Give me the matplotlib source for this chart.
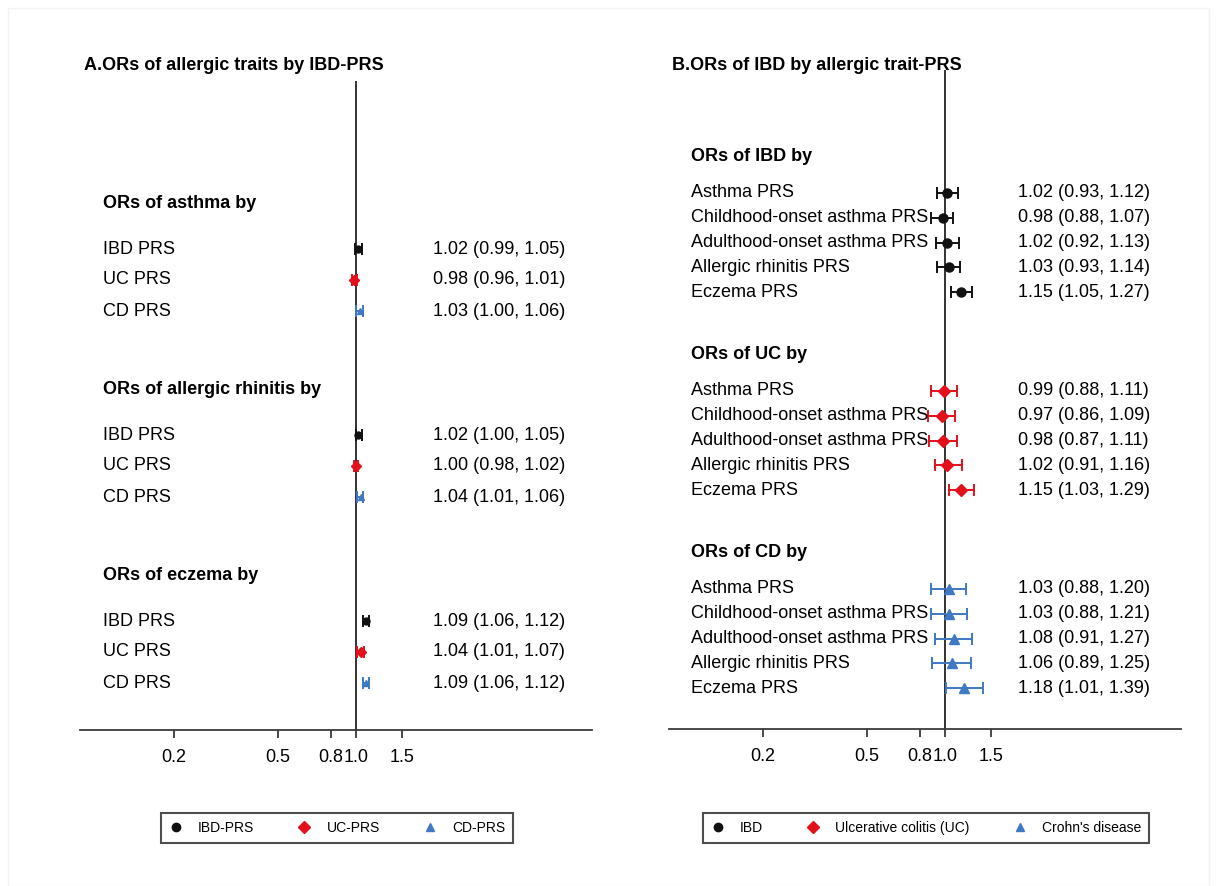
import numpy as np
import matplotlib.pyplot as plt
from matplotlib import transforms
from matplotlib.lines import Line2D
from matplotlib.patches import Rectangle

plt.rcParams['font.family'] = ['Liberation Sans', 'DejaVu Sans']

# ---- panel A data: ORs of allergic traits by IBD-PRS
groups_a = ["ORs of asthma by", "ORs of allergic rhinitis by", "ORs of eczema by"]
rows_a = ["IBD PRS", "UC PRS", "CD PRS"]
or_a = [[1.02, 0.98, 1.03], [1.02, 1.00, 1.04], [1.09, 1.04, 1.09]]
lo_a = [[0.99, 0.96, 1.00], [1.00, 0.98, 1.01], [1.06, 1.01, 1.06]]
hi_a = [[1.05, 1.01, 1.06], [1.05, 1.02, 1.06], [1.12, 1.07, 1.12]]
legend_a = ["IBD-PRS", "UC-PRS", "CD-PRS"]

# ---- panel B data: ORs of IBD by allergic trait-PRS
groups_b = ["ORs of IBD by", "ORs of UC by", "ORs of CD by"]
rows_b = ["Asthma PRS", "Childhood-onset asthma PRS", "Adulthood-onset asthma PRS",
          "Allergic rhinitis PRS", "Eczema PRS"]
or_b = [[1.02, 0.98, 1.02, 1.03, 1.15],
        [0.99, 0.97, 0.98, 1.02, 1.15],
        [1.03, 1.03, 1.08, 1.06, 1.18]]
lo_b = [[0.93, 0.88, 0.92, 0.93, 1.05],
        [0.88, 0.86, 0.87, 0.91, 1.03],
        [0.88, 0.88, 0.91, 0.89, 1.01]]
hi_b = [[1.12, 1.07, 1.13, 1.14, 1.27],
        [1.11, 1.09, 1.11, 1.16, 1.29],
        [1.20, 1.21, 1.27, 1.25, 1.39]]
legend_b = ["IBD", "Ulcerative colitis (UC)", "Crohn's disease"]

xticks = [0.2, 0.5, 0.8, 1.0, 1.5]
xticklabels = ["0.2", "0.5", "0.8", "1.0", "1.5"]

colors = ["#111111", "#e3101b", "#3f78c3"]
markers = ["o", "D", "^"]

W, H = 1217, 886
fig = plt.figure(figsize=(W / 100, H / 100), dpi=100)
fig.patches.append(Rectangle((8 / W, 0), 1201 / W, 1 - 8 / H, transform=fig.transFigure,
                             fill=False, edgecolor="#f0f4f4", lw=1.0))


def fx(px):
    return px / W


def fy(py):
    return 1 - py / H


def panel(x0, x1, ytop, ybot, title, title_x, lab_x, val_x, groups, rows, ors, los, his,
          head0, head_step, row_off, row_step, per_group_color, msize, leg_labels, leg_cx):
    ax = fig.add_axes([fx(x0), fy(ybot), (x1 - x0) / W, (ybot - ytop) / H])
    ax.set_xscale("log")
    ax.set_xlim(0.0875, 8.0)
    ax.set_ylim(ybot, ytop)
    for s in ["left", "right", "top"]:
        ax.spines[s].set_visible(False)
    ax.spines["bottom"].set_color("#3a3a3a")
    ax.spines["bottom"].set_linewidth(1.3)
    ax.set_yticks([])
    ax.set_xticks(xticks)
    ax.set_xticklabels(xticklabels, fontsize=13)
    ax.minorticks_off()
    ax.tick_params(axis="x", length=6, width=1.3, color="#3a3a3a", pad=8)
    ax.axvline(1.0, color="#222222", lw=1.3, zorder=1)

    tr = transforms.blended_transform_factory(fig.transFigure, ax.transData)
    fig.text(fx(title_x), fy(66), title, fontsize=13, fontweight="bold", va="center")
    for g, gname in enumerate(groups):
        hy = head0 + g * head_step
        ax.text(fx(lab_x), hy, gname, transform=tr, fontsize=13, fontweight="bold", va="center")
        for i, rname in enumerate(rows):
            y = hy + row_off + i * row_step
            k = g if per_group_color else i
            o, l, h = ors[g][i], los[g][i], his[g][i]
            ax.errorbar(o, y, xerr=[[o - l], [h - o]], fmt=markers[k], color=colors[k],
                        ms=msize, capsize=4, elinewidth=1.4, capthick=1.4, zorder=3)
            ax.text(fx(lab_x), y, rname, transform=tr, fontsize=13, va="center")
            ax.text(fx(val_x), y, f"{o:.2f} ({l:.2f}, {h:.2f})", transform=tr,
                    fontsize=13, va="center")

    handles = [Line2D([], [], ls="none", marker=markers[k], color=colors[k], ms=6)
               for k in range(3)]
    leg = fig.legend(handles, leg_labels, loc="center", bbox_to_anchor=(fx(leg_cx), fy(828)),
                     ncol=3, fontsize=10, frameon=True, fancybox=False, edgecolor="#222222",
                     handlelength=1.0, handletextpad=1.1, columnspacing=3.1, borderpad=0.55)
    leg.get_frame().set_linewidth(1.5)
    return ax


panel(80, 592, 81, 730, "A.ORs of allergic traits by IBD-PRS", 84, 103, 433,
      groups_a, rows_a, or_a, lo_a, hi_a, 203, 186, 46, 31, False, 5, legend_a, 337)
panel(669, 1181, 70, 729, "B.ORs of IBD by allergic trait-PRS", 672, 691, 1018,
      groups_b, rows_b, or_b, lo_b, hi_b, 157, 198, 36, 24.8, True, 6.5, legend_b, 926)

fig.savefig("out.png", dpi=100)
